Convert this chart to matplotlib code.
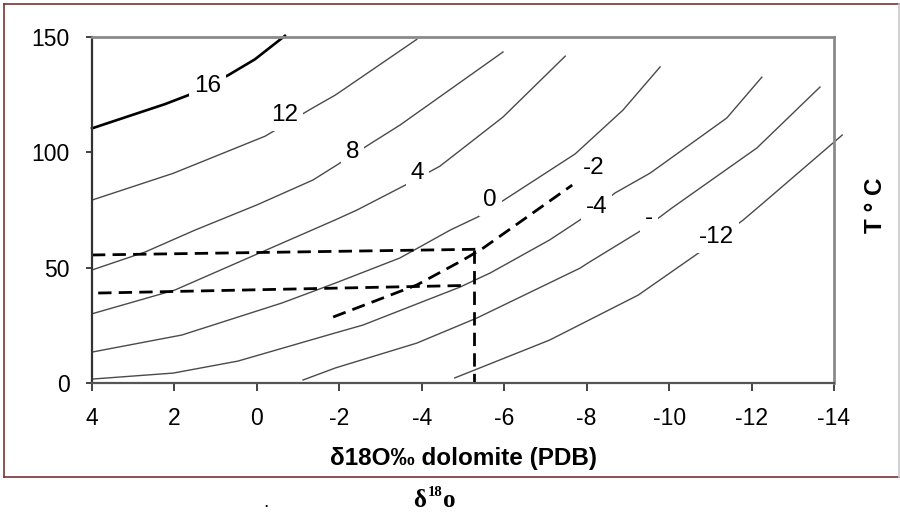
import matplotlib.pyplot as plt
from matplotlib.lines import Line2D

# contour lines, d18O of water (per mil)
l16_x = [4.0, 2.23, 1.66, 0.69, 0.05, -0.68]
l16_y = [110.4, 120.9, 124.8, 133.5, 140.3, 150.5]

l12_x = [4.0, 2.03, -0.2, -1.33, -1.9, -2.18, -3.88]
l12_y = [79.3, 90.9, 107.0, 119.0, 124.8, 128.2, 149.0]

l8_x = [4.0, 2.71, 1.5, 0.0, -1.36, -2.02, -2.82, -3.47, -5.97]
l8_y = [49.0, 56.8, 66.3, 77.2, 88.0, 95.4, 104.5, 111.8, 143.5]

l4_x = [4.0, 1.99, -0.12, -1.9, -2.43, -3.6, -4.44, -5.97, -7.48]
l4_y = [30.0, 40.3, 56.8, 70.7, 75.0, 85.8, 94.0, 115.3, 141.7]

l0_x = [4.0, 1.82, -0.61, -1.9, -3.47, -4.69, -5.36, -6.14, -7.72, -8.88, -9.78]
l0_y = [13.4, 20.8, 34.7, 43.3, 54.2, 66.3, 72.0, 81.0, 99.3, 118.3, 137.0]

lm4_x = [4.0, 2.03, 0.46, -1.9, -2.57, -4.93, -5.66, -7.1, -7.84, -8.69, -9.54, -11.4, -12.25]
lm4_y = [1.7, 4.3, 9.5, 21.7, 25.1, 41.6, 47.7, 62.0, 70.7, 82.4, 91.0, 114.9, 132.6]

lm8_x = [-1.12, -1.9, -3.88, -5.34, -7.84, -8.03, -9.42, -10.07, -12.13, -13.66]
lm8_y = [1.3, 6.5, 17.3, 28.2, 49.8, 52.0, 67.2, 75.9, 101.9, 128.3]

lm12_x = [-4.8, -7.1, -9.25, -10.75, -11.8, -12.28, -14.2]
lm12_y = [2.2, 18.6, 38.1, 56.8, 70.7, 78.0, 107.5]

# dashed construction lines
dash2_x = [-1.85, -3.88, -5.0, -5.49, -7.65]
dash2_y = [28.6, 42.5, 53.3, 58.5, 85.8]
upper_x = [4.0, -5.41]
upper_y = [55.5, 58.0]
lower_x = [3.85, -5.1]
lower_y = [39.0, 42.3]
vert_x = [-5.27, -5.27]
vert_y = [57.5, 0.0]

# contour labels
label_text = ['16', '12', '8', '4', '0', '-2', '-4', '-', '-12']
label_x = [1.19, -0.68, -2.32, -3.89, -5.66, -8.16, -8.24, -9.52, -11.15]
label_y = [128.7, 116.2, 100.3, 90.9, 79.3, 93.0, 76.4, 71.4, 63.4]

x_ticks = [4, 2, 0, -2, -4, -6, -8, -10, -12, -14]
y_ticks = [0, 50, 100, 150]

W, H = 900, 513
plt.rcParams['font.family'] = ['Liberation Sans', 'DejaVu Sans']

fig = plt.figure(figsize=(W / 100, H / 100), dpi=100)
ax = fig.add_axes([92 / W, 1 - 383 / H, 742 / W, 346 / H])

thin = dict(color='#4a4a4a', lw=1.0, clip_on=False)
ax.plot(l16_x, l16_y, color='black', lw=1.9, clip_on=False)
for xs, ys in [(l12_x, l12_y), (l8_x, l8_y), (l4_x, l4_y), (l0_x, l0_y),
               (lm4_x, lm4_y), (lm8_x, lm8_y), (lm12_x, lm12_y)]:
    ax.plot(xs, ys, **thin)

dashed = dict(color='black', lw=2.0, linestyle=(0, (4.8, 2.6)), clip_on=False)
ax.plot(upper_x, upper_y, **dashed)
ax.plot(lower_x, lower_y, **dashed)
ax.plot(vert_x, vert_y, **dashed)
ax.plot(dash2_x, dash2_y, **dashed)

# labels sit on white boxes, which cut the gaps into the lines
for t, x, y in zip(label_text, label_x, label_y):
    ax.text(x, y, t, fontsize=17.5, ha='center', va='center', zorder=5,
            bbox=dict(facecolor='white', edgecolor='none', pad=3.5))

ax.set_xlim(4, -14)
ax.set_ylim(0, 150)
ax.set_xticks(x_ticks)
ax.set_xticklabels([str(v) for v in x_ticks])
ax.set_yticks(y_ticks)
ax.tick_params(labelsize=16.5, direction='out', length=6, width=1.2, color='#222222')
ax.tick_params(axis='x', pad=11)
ax.tick_params(axis='y', pad=12, length=4)

ax.spines['left'].set_color('#333333')
ax.spines['bottom'].set_color('#555555')
ax.spines['left'].set_linewidth(1.6)
ax.spines['bottom'].set_linewidth(1.6)
for s in ['top', 'right']:
    ax.spines[s].set_color('#8a8a8a')
    ax.spines[s].set_linewidth(2.0)


def fx(px):
    return px / W


def fy(py):
    return 1 - py / H


fig.text(fx(463), fy(459), 'δ18O‰ dolomite (PDB)', fontsize=17.5,
         fontweight='bold', ha='center', va='center')
fig.text(fx(876), fy(205), 'T ° C', fontsize=17.5, fontweight='bold',
         rotation=90, ha='center', va='center')

# caption under the frame
serif = ['Liberation Serif', 'DejaVu Serif']
fig.text(fx(413), fy(507), 'δ', family=serif, fontsize=18, fontweight='bold', ha='left', va='baseline')
fig.text(fx(428), fy(496), '18', family=serif, fontsize=10.5, fontweight='bold', ha='left', va='baseline')
fig.text(fx(443), fy(507), 'o', family=serif, fontsize=18, fontweight='bold', ha='left', va='baseline')
fig.text(fx(266), fy(507), '.', fontsize=14, ha='center', va='baseline')

# outer frame
red = '#7a3434'
fig.add_artist(Line2D([fx(4), fx(899)], [fy(4), fy(4)], color=red, lw=1.2))
fig.add_artist(Line2D([fx(4), fx(4)], [fy(4), fy(477)], color=red, lw=1.2))
fig.add_artist(Line2D([fx(4), fx(899)], [fy(477), fy(477)], color=red, lw=1.2))
fig.add_artist(Line2D([fx(899), fx(899)], [fy(4), fy(477)], color='#c8c8c8', lw=1.2))

fig.savefig('out.png', dpi=100)
